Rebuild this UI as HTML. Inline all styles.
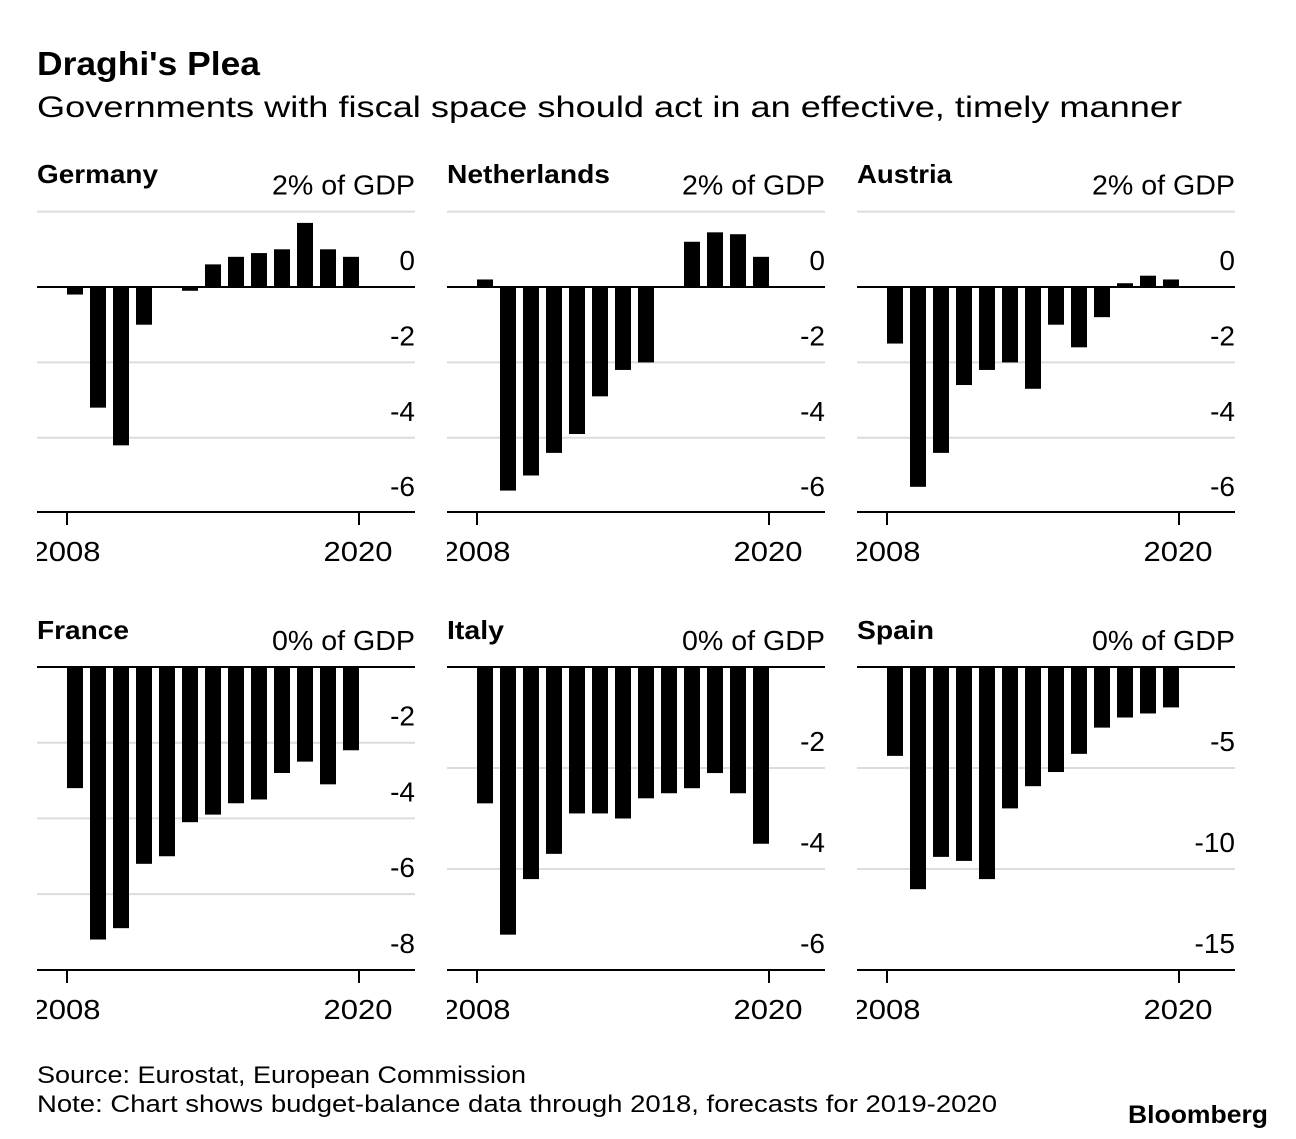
<!DOCTYPE html>
<html><head><meta charset="utf-8"><style>
html,body{margin:0;padding:0;background:#fff;}
svg text{font-family:"Liberation Sans",Arial,sans-serif;fill:#000;}
</style></head><body>
<svg id="chart" width="1296" height="1134" viewBox="0 0 1296 1134" xmlns="http://www.w3.org/2000/svg">
<text x="37" y="75" font-size="33" font-weight="bold" textLength="223" lengthAdjust="spacingAndGlyphs">Draghi's Plea</text>
<text x="37" y="117" font-size="30" textLength="1145" lengthAdjust="spacingAndGlyphs">Governments with fiscal space should act in an effective, timely manner</text>
<text x="37" y="1083" font-size="24" textLength="489" lengthAdjust="spacingAndGlyphs">Source: Eurostat, European Commission</text>
<text x="37" y="1112" font-size="24" textLength="960" lengthAdjust="spacingAndGlyphs">Note: Chart shows budget-balance data through 2018, forecasts for 2019-2020</text>
<text x="1268" y="1123" font-size="25" font-weight="bold" text-anchor="end" textLength="140" lengthAdjust="spacingAndGlyphs">Bloomberg</text>
<g id="panels"></g>
</svg>
<script>
const years = [2008,2009,2010,2011,2012,2013,2014,2015,2016,2017,2018,2019,2020];
const germany = [-0.2,-3.2,-4.2,-1.0,0.0,-0.1,0.6,0.8,0.9,1.0,1.7,1.0,0.8];
const netherlands = [0.2,-5.4,-5.0,-4.4,-3.9,-2.9,-2.2,-2.0,0.0,1.2,1.45,1.4,0.8];
const austria = [-1.5,-5.3,-4.4,-2.6,-2.2,-2.0,-2.7,-1.0,-1.6,-0.8,0.1,0.3,0.2];
const france = [-3.2,-7.2,-6.9,-5.2,-5.0,-4.1,-3.9,-3.6,-3.5,-2.8,-2.5,-3.1,-2.2];
const italy = [-2.7,-5.3,-4.2,-3.7,-2.9,-2.9,-3.0,-2.6,-2.5,-2.4,-2.1,-2.5,-3.5];
const spain = [-4.4,-11.0,-9.4,-9.6,-10.5,-7.0,-5.9,-5.2,-4.3,-3.0,-2.5,-2.3,-2.0];
const topTicks = [2,0,-2,-4,-6];
const franceTicks = [0,-2,-4,-6,-8];
const italyTicks = [0,-2,-4,-6];
const spainTicks = [0,-5,-10,-15];
const xTickYears = [2008,2020];

const NS='http://www.w3.org/2000/svg';
const root=document.getElementById('panels');
function mk(tag,attrs,parent){const e=document.createElementNS(NS,tag);for(const k in attrs)e.setAttribute(k,attrs[k]);parent.appendChild(e);return e;}
const titleW={germany:121,netherlands:163,austria:95,france:92,italy:57,spain:77};

function panel(name,values,ticks,x0,zeroY,unitPx,axisY,topLabel){
  const g=mk('g',{},root);
  
  
  const clipId='clip-'+name;
  const cp=mk('clipPath',{id:clipId},g);
  mk('rect',{x:x0,y:0,width:378,height:1134},cp);
  const y=v=>zeroY-v*unitPx;
  const xBar=yr=>x0+30+(yr-2008)*23;
  const xTick=yr=>x0+30+(yr-2008)*(292/12);
  const t=mk('text',{x:x0,y:(topLabel==='2'?183:639),'font-size':26,'font-weight':'bold',textLength:titleW[name],lengthAdjust:'spacingAndGlyphs'},g);
  
  
  t.textContent=name.charAt(0).toUpperCase()+name.slice(1);
  ticks.forEach((v,i)=>{
    const gy=y(v);
    const isAxis=Math.abs(gy-axisY)<4;
    if(!isAxis){
      const ln=mk('line',{x1:x0,x2:x0+378,y1:gy,y2:gy,stroke:v===0?'#000':'#dcdcdc','stroke-width':2},g);
      
      
    }
    const txt=(i===0)?(v+'% of GDP'):String(v);
    const attrs={x:x0+378,y:gy-17,'font-size':28,'text-anchor':'end'};
    if(i===0){attrs.textLength=143;attrs.lengthAdjust='spacingAndGlyphs';}
    const lb=mk('text',attrs,g);
    
    
    lb.textContent=txt;
  });
  values.forEach((v,i)=>{
    const yr=years[i];
    const top=Math.min(y(v),zeroY), h=Math.abs(y(v)-zeroY);
    const r=mk('rect',{x:xBar(yr),y:top,width:16,height:Math.max(h,0.01),fill:'#000'},g);
    
    
  });
  const ax=mk('line',{x1:x0,x2:x0+378,y1:axisY,y2:axisY,stroke:'#000','stroke-width':2},g);
  
  
  xTickYears.forEach(yr=>{
    const tk=mk('line',{x1:xTick(yr),x2:xTick(yr),y1:axisY,y2:axisY+13,stroke:'#000','stroke-width':2},g);
    
    
    const cx=xTick(yr)-1;
    const tl=mk('text',{x:cx-34.5,y:axisY+49,'font-size':28,textLength:69,lengthAdjust:'spacingAndGlyphs','clip-path':'url(#'+clipId+')'},g);
    
    
    tl.textContent=String(yr);
  });
}
const topUnit=37.7;
panel('germany',germany,topTicks,37,287,topUnit,512,'2');
panel('netherlands',netherlands,topTicks,447,287,topUnit,512,'2');
panel('austria',austria,topTicks,857,287,topUnit,512,'2');
panel('france',france,franceTicks,37,667,37.85,970,'0');
panel('italy',italy,italyTicks,447,667,50.5,970,'0');
panel('spain',spain,spainTicks,857,667,20.2,970,'0');
</script>
</body></html>
